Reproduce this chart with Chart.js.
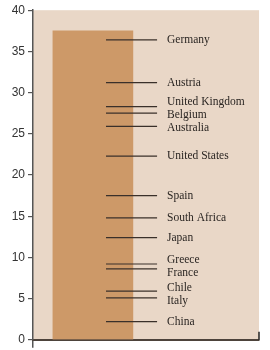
<!DOCTYPE html>
<html><head><meta charset="utf-8">
<script src="https://cdn.jsdelivr.net/npm/chart.js@4/dist/chart.umd.min.js"></script>
<style>html,body{margin:0;padding:0;background:#fff;}#wrap{width:270px;height:350px;}</style>
</head><body><div id="wrap"><canvas id="c" width="270" height="350"></canvas></div>
<script>
const barValues = [37.5];
const countries = ['Germany','Austria','United Kingdom','Belgium','Australia','United States','Spain','South Africa','Japan','Greece','France','Chile','Italy','China'];
const values = [36.4, 31.2, 28.3, 27.5, 25.9, 22.3, 17.5, 14.8, 12.4, 9.2, 8.6, 5.9, 5.1, 2.2];
const yTickMin = 0, yTickMax = 40, yTickStep = 5;

const BG = 'rgb(233,215,199)';
const BAR = 'rgb(205,153,104)';

const markerPlugin = {
  id: 'markers',
  beforeDraw(chart) {
    const a = chart.chartArea, c = chart.ctx;
    c.save(); c.fillStyle = BG; c.fillRect(a.left, a.top, a.right - a.left, a.bottom - a.top); c.restore();
  },
  afterDatasetsDraw(chart) {
    const c = chart.ctx, xs = chart.scales.x, ys = chart.scales.y;
    const x0 = xs.getPixelForValue(3.23), x1 = xs.getPixelForValue(5.49), xt = xs.getPixelForValue(5.93);
    c.save();
    c.strokeStyle = '#3a302a'; c.lineWidth = 1.2;
    const targets = values.map(v => ys.getPixelForValue(v));
    targets.forEach(y => { c.beginPath(); c.moveTo(x0, y); c.lineTo(x1, y); c.stroke(); });
    const gap = 13;
    let clusters = targets.map((t, i) => ({ idx: [i], mean: t }));
    let changed = true;
    const pos = cl => cl.idx.map((_, k) => cl.mean - (cl.idx.length - 1) * gap / 2 + k * gap);
    while (changed) {
      changed = false;
      for (let i = 0; i < clusters.length - 1; i++) {
        const a = pos(clusters[i]), b = pos(clusters[i + 1]);
        if (b[0] - a[a.length - 1] < gap - 0.01) {
          const idx = clusters[i].idx.concat(clusters[i + 1].idx);
          const mean = idx.reduce((s, j) => s + targets[j], 0) / idx.length;
          clusters.splice(i, 2, { idx, mean });
          changed = true; break;
        }
      }
    }
    c.fillStyle = '#2a2522'; c.font = '11.5px "Liberation Serif", "Times New Roman", serif';
    c.textBaseline = 'middle'; c.textAlign = 'left';
    clusters.forEach(cl => { const p = pos(cl); cl.idx.forEach((j, k) => c.fillText(countries[j], xt, p[k])); });
    c.strokeStyle = '#222'; c.lineWidth = 1.5;
    const xr = xs.getPixelForValue(10), yb = ys.getPixelForValue(0);
    c.beginPath(); c.moveTo(xr, yb - 8); c.lineTo(xr, yb); c.stroke();
    c.restore();
  }
};

new Chart(document.getElementById('c'), {
  type: 'bar',
  data: { datasets: [{ data: barValues.map(v => ({ x: 2.65, y: v })), backgroundColor: BAR, borderWidth: 0, barThickness: 80 }] },
  options: {
    responsive: false, animation: false,
    layout: { padding: { top: 10, right: 11, left: 0, bottom: 0 } },
    plugins: { legend: { display: false }, tooltip: { enabled: false } },
    scales: {
      x: {
        type: 'linear', min: 0, max: 10, offset: false,
        ticks: { display: false, stepSize: 10 },
        grid: { offset: false, drawOnChartArea: false, tickLength: 8, tickColor: ctx => ctx.index === 0 ? '#555' : 'rgba(0,0,0,0)', lineWidth: 1.5 },
        border: { color: '#4d433b', width: 2 },
        afterFit: s => { s.height = 10; }
      },
      y: {
        min: yTickMin, max: yTickMax,
        ticks: { stepSize: yTickStep, padding: 3, color: '#333', font: { family: '"Liberation Sans", Arial, sans-serif', size: 12 } },
        grid: { drawOnChartArea: false, tickLength: 5, color: '#555', lineWidth: 1.2 },
        border: { color: '#555', width: 1.5 },
        afterFit: s => { s.width = 33; }
      }
    }
  },
  plugins: [markerPlugin]
});
</script></body></html>
